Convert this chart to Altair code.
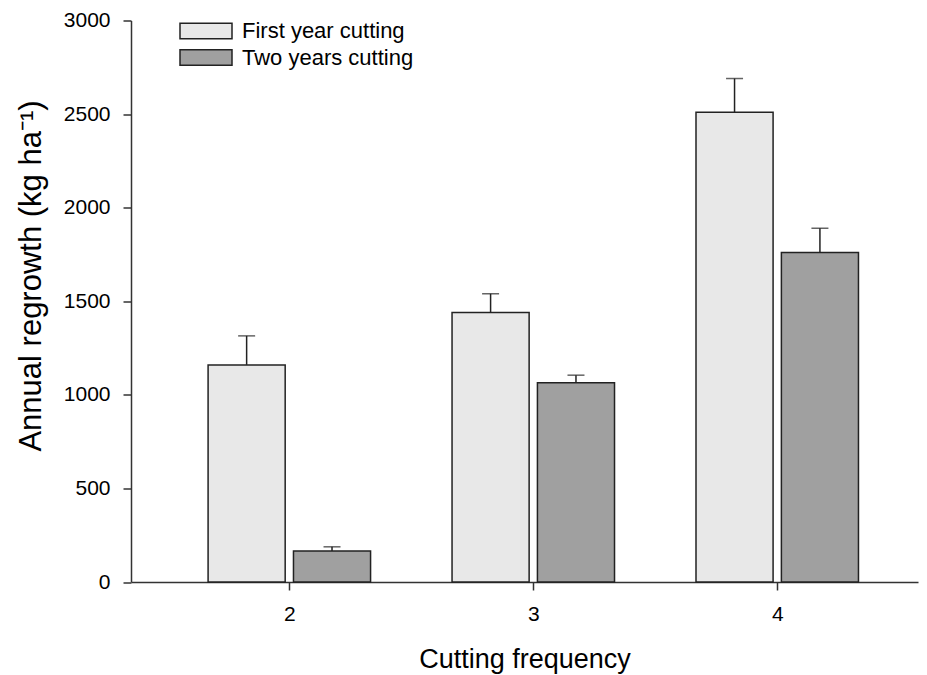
import altair as alt
import pandas as pd

# ---- data ----
categories = [2, 3, 4]
series_names = ["First year cutting", "Two years cutting"]
first_year_mean = [1160, 1440, 2510]
first_year_err = [155, 100, 180]
two_years_mean = [165, 1065, 1760]
two_years_err = [23, 40, 130]
y_ticks = [0, 500, 1000, 1500, 2000, 2500, 3000]

# bar placement within a group (data units on the x scale)
bar_offsets = {"First year cutting": (-0.333, -0.017), "Two years cutting": (0.017, 0.333)}

rows = []
for i, c in enumerate(categories):
    for name, means, errs in [(series_names[0], first_year_mean, first_year_err),
                              (series_names[1], two_years_mean, two_years_err)]:
        lo, hi = bar_offsets[name]
        rows.append({
            "cat": c, "series": name,
            "x0": c + lo, "x1": c + hi, "xc": c + (lo + hi) / 2,
            "base": 0, "mean": means[i], "top": means[i] + errs[i],
        })
df = pd.DataFrame(rows)

FONT = "Liberation Sans"
xscale = alt.Scale(domain=[1.351, 4.577], nice=False, zero=False)
yscale = alt.Scale(domain=[0, 3000], nice=False)

base = alt.Chart(df)

bars = base.mark_bar(stroke="#222222", strokeWidth=1.5).encode(
    x=alt.X("x0:Q", scale=xscale,
            axis=alt.Axis(values=categories, format="d", title="Cutting frequency",
                          grid=False, tickSize=8, labelPadding=13,
                          labelFontSize=21, titleFontSize=27, labelFont=FONT, titleFont=FONT,
                          titleFontWeight="normal", titleY=64,
                          domainColor="#333333", tickColor="#333333", domainWidth=1.5,
                          tickWidth=1.5, labelColor="black", titleColor="black")),
    x2="x1:Q",
    y=alt.Y("mean:Q", scale=yscale,
            axis=alt.Axis(values=y_ticks, format="d", title="Annual regrowth (kg ha\u207b\u00b9)",
                          grid=False, tickSize=8, labelPadding=13,
                          labelFontSize=21, titleFontSize=31, labelFont=FONT, titleFont=FONT,
                          titleFontWeight="normal", titleX=-100, titleY=255,
                          titleAlign="center", titleAngle=270, titleBaseline="middle",
                          domainColor="#333333", tickColor="#333333", domainWidth=1.5,
                          tickWidth=1.5, labelColor="black", titleColor="black")),
    y2="base:Q",
    fill=alt.Fill("series:N",
                  scale=alt.Scale(domain=series_names, range=["#e8e8e8", "#a0a0a0"]),
                  legend=alt.Legend(title=None, orient="none", legendX=61, legendY=-3.5,
                                    symbolType="M-2,-0.6H2V0.6H-2Z", symbolSize=676,
                                    symbolStrokeColor="#222222", symbolStrokeWidth=1.5,
                                    labelFontSize=22, labelFont=FONT, labelColor="black",
                                    labelOffset=22, rowPadding=1.5, padding=0,
                                    labelLimit=400)),
)

err_line = base.mark_rule(color="#222222", strokeWidth=1.5).encode(
    x=alt.X("xc:Q", scale=xscale),
    y=alt.Y("mean:Q", scale=yscale),
    y2="top:Q",
)

err_cap = base.mark_tick(color="#222222", thickness=1.5, size=17, orient="horizontal").encode(
    x=alt.X("xc:Q", scale=xscale),
    y=alt.Y("top:Q", scale=yscale),
)

chart = alt.layer(bars, err_line, err_cap).properties(
    width=787, height=561.5,
    autosize=alt.AutoSizeParams(type="none"),
    padding={"left": 123, "top": 12.5, "right": 1, "bottom": 93},
    background="white",
).configure_view(stroke=None)

chart.save("out.html", embed_options={"renderer": "svg", "actions": False})
